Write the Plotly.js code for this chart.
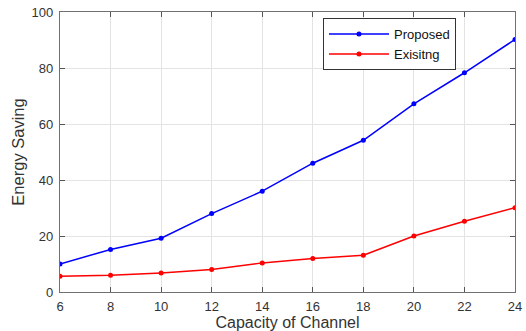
<!DOCTYPE html>
<html><head><meta charset="utf-8">
<script src="https://cdn.plot.ly/plotly-3.0.1.min.js"></script>
<style>html,body{margin:0;padding:0;background:#fff}#chart{width:526px;height:331px}</style>
</head><body><div id="chart"></div>
<script>
var capacity = [6, 8, 10, 12, 14, 16, 18, 20, 22, 24];
var proposed = [10, 15.2, 19.2, 28, 36, 46, 54.2, 67.2, 78.3, 90.2];
var existing = [5.6, 6, 6.8, 8, 10.4, 12, 13.1, 20, 25.3, 30.1];
var xTicks = [6, 8, 10, 12, 14, 16, 18, 20, 22, 24];
var yTicks = [0, 20, 40, 60, 80, 100];

var FONT = 'Liberation Sans, Arial, sans-serif';
var traces = [
  {x: capacity, y: proposed, name: 'Proposed', type: 'scatter', mode: 'lines+markers',
   line: {color: '#0000ff', width: 1.5}, marker: {color: '#0000ff', size: 5}},
  {x: capacity, y: existing, name: 'Exisitng', type: 'scatter', mode: 'lines+markers',
   line: {color: '#ff0000', width: 1.5}, marker: {color: '#ff0000', size: 5}}
];
var axisCommon = {
  showline: true, linecolor: '#707070', linewidth: 1.2, mirror: 'ticks',
  ticks: 'inside', ticklen: 5, tickcolor: '#555', tickwidth: 1,
  showgrid: true, gridcolor: '#e3e3e3', gridwidth: 1, zeroline: false,
  tickfont: {family: FONT, size: 13, color: '#333'}
};
var layout = {
  width: 526, height: 331,
  margin: {l: 60, r: 11, t: 12, b: 39},
  paper_bgcolor: '#fff', plot_bgcolor: '#fff',
  showlegend: true,
  legend: {x: 0.578, y: 0.978, xanchor: 'left', yanchor: 'top',
    bgcolor: '#fff', bordercolor: '#333', borderwidth: 1,
    font: {family: FONT, size: 13, color: '#111'},
    tracegroupgap: 0, itemwidth: 60},
  xaxis: Object.assign({}, axisCommon, {
    range: [6, 24], tickvals: xTicks, ticktext: xTicks.map(String),
    ticklabelstandoff: 2,
    title: {text: 'Capacity of Channel', standoff: 3,
      font: {family: FONT, size: 16, color: '#333'}}
  }),
  yaxis: Object.assign({}, axisCommon, {
    range: [0, 100], tickvals: yTicks, ticktext: yTicks.map(String),
    ticklabelstandoff: 3,
    title: {text: 'Energy Saving', standoff: 2,
      font: {family: FONT, size: 16.5, color: '#333'}}
  })
};
Plotly.newPlot('chart', traces, layout, {staticPlot: true, displayModeBar: false});
</script></body></html>
